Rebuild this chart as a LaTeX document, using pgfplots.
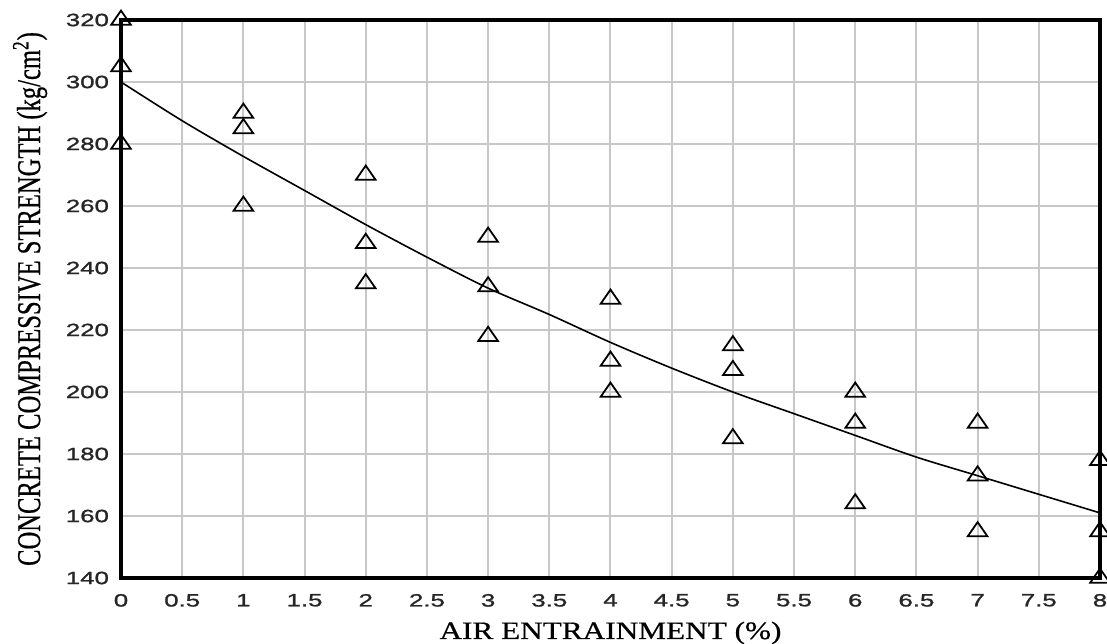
\documentclass[border=0pt]{standalone}
\usepackage{graphicx}
\usepackage{fontspec}
\setmainfont{Liberation Serif}
\newfontfamily\labfont{Liberation Serif}[FakeBold=0.6]
\newfontfamily\xlabfont{Liberation Serif}[FakeStretch=1.25, FakeBold=0.6]
\newfontfamily\tickfont{Liberation Sans}[FakeStretch=1.45, FakeBold=1.3]
\usepackage{pgfplots}
\pgfplotsset{compat=1.18}
\definecolor{gridgray}{RGB}{200,200,200}
\pgfplotsset{
  layers/mylayers/.define layer set={
    axis background,axis grid,main,axis ticks,axis lines,axis tick labels,axis descriptions,axis foreground
  }{},
}
\begin{document}
\begin{tikzpicture}
\begin{axis}[
  set layers=mylayers,
  scale only axis, width=489.5pt, height=279pt,
  xmin=0, xmax=8, ymin=140, ymax=320,
  xtick={0,0.5,1,1.5,2,2.5,3,3.5,4,4.5,5,5.5,6,6.5,7,7.5,8},
  ytick={140,160,180,200,220,240,260,280,300,320},
  major tick length=0pt,
  grid=major,
  major grid style={gridgray, line width=1pt},
  axis line style={line width=1.8pt, black},
  clip=false,
  /pgf/number format/assume math mode=true,
  ticklabel style={font=\fontsize{8.9}{10}\tickfont, text=black!85},
  xticklabel style={yshift=-4.5pt},
  yticklabel style={xshift=-2.5pt},
  xlabel={\xlabfont AIR ENTRAINMENT (\%)},
  xlabel style={at={(axis description cs:0.5,-0.1093)}, anchor=base, font=\fontsize{12.5}{14}\selectfont},
  ylabel={\labfont\scalebox{1}[1.35]{CONCRETE COMPRESSIVE STRENGTH (kg/cm\textsuperscript{2})}},
  ylabel style={at={(axis description cs:-0.0827,0.5)}, anchor=base, font=\fontsize{12.3}{14}\selectfont},
]
\addplot[black, line width=0.8pt, smooth] coordinates {
 (0,300) (0.5,287.5) (1,276) (1.5,265) (2,254) (2.5,243.5) (3,233.5) (3.5,225)
 (4,216) (4.5,207.7) (5,200) (5.5,193) (6,186) (6.5,179) (7,173) (7.5,167) (8,161)
};
\addplot[only marks, mark=triangle, mark size=4.7pt,
  mark options={draw=black, fill=none, line width=0.9pt, xscale=1.2}] coordinates {
 (0,320) (0,305) (0,280)
 (1,290) (1,285) (1,260)
 (2,270) (2,248) (2,235)
 (3,250) (3,234) (3,218)
 (4,230) (4,210) (4,200)
 (5,215) (5,207) (5,185)
 (6,200) (6,190) (6,164)
 (7,190) (7,173) (7,155)
 (8,178) (8,155) (8,140)
};
\end{axis}
\pgfresetboundingbox
\path (current axis.south west) ++(-60.5pt,-32.5pt) rectangle ++(553.5pt,321.5pt);
\end{tikzpicture}
\end{document}
